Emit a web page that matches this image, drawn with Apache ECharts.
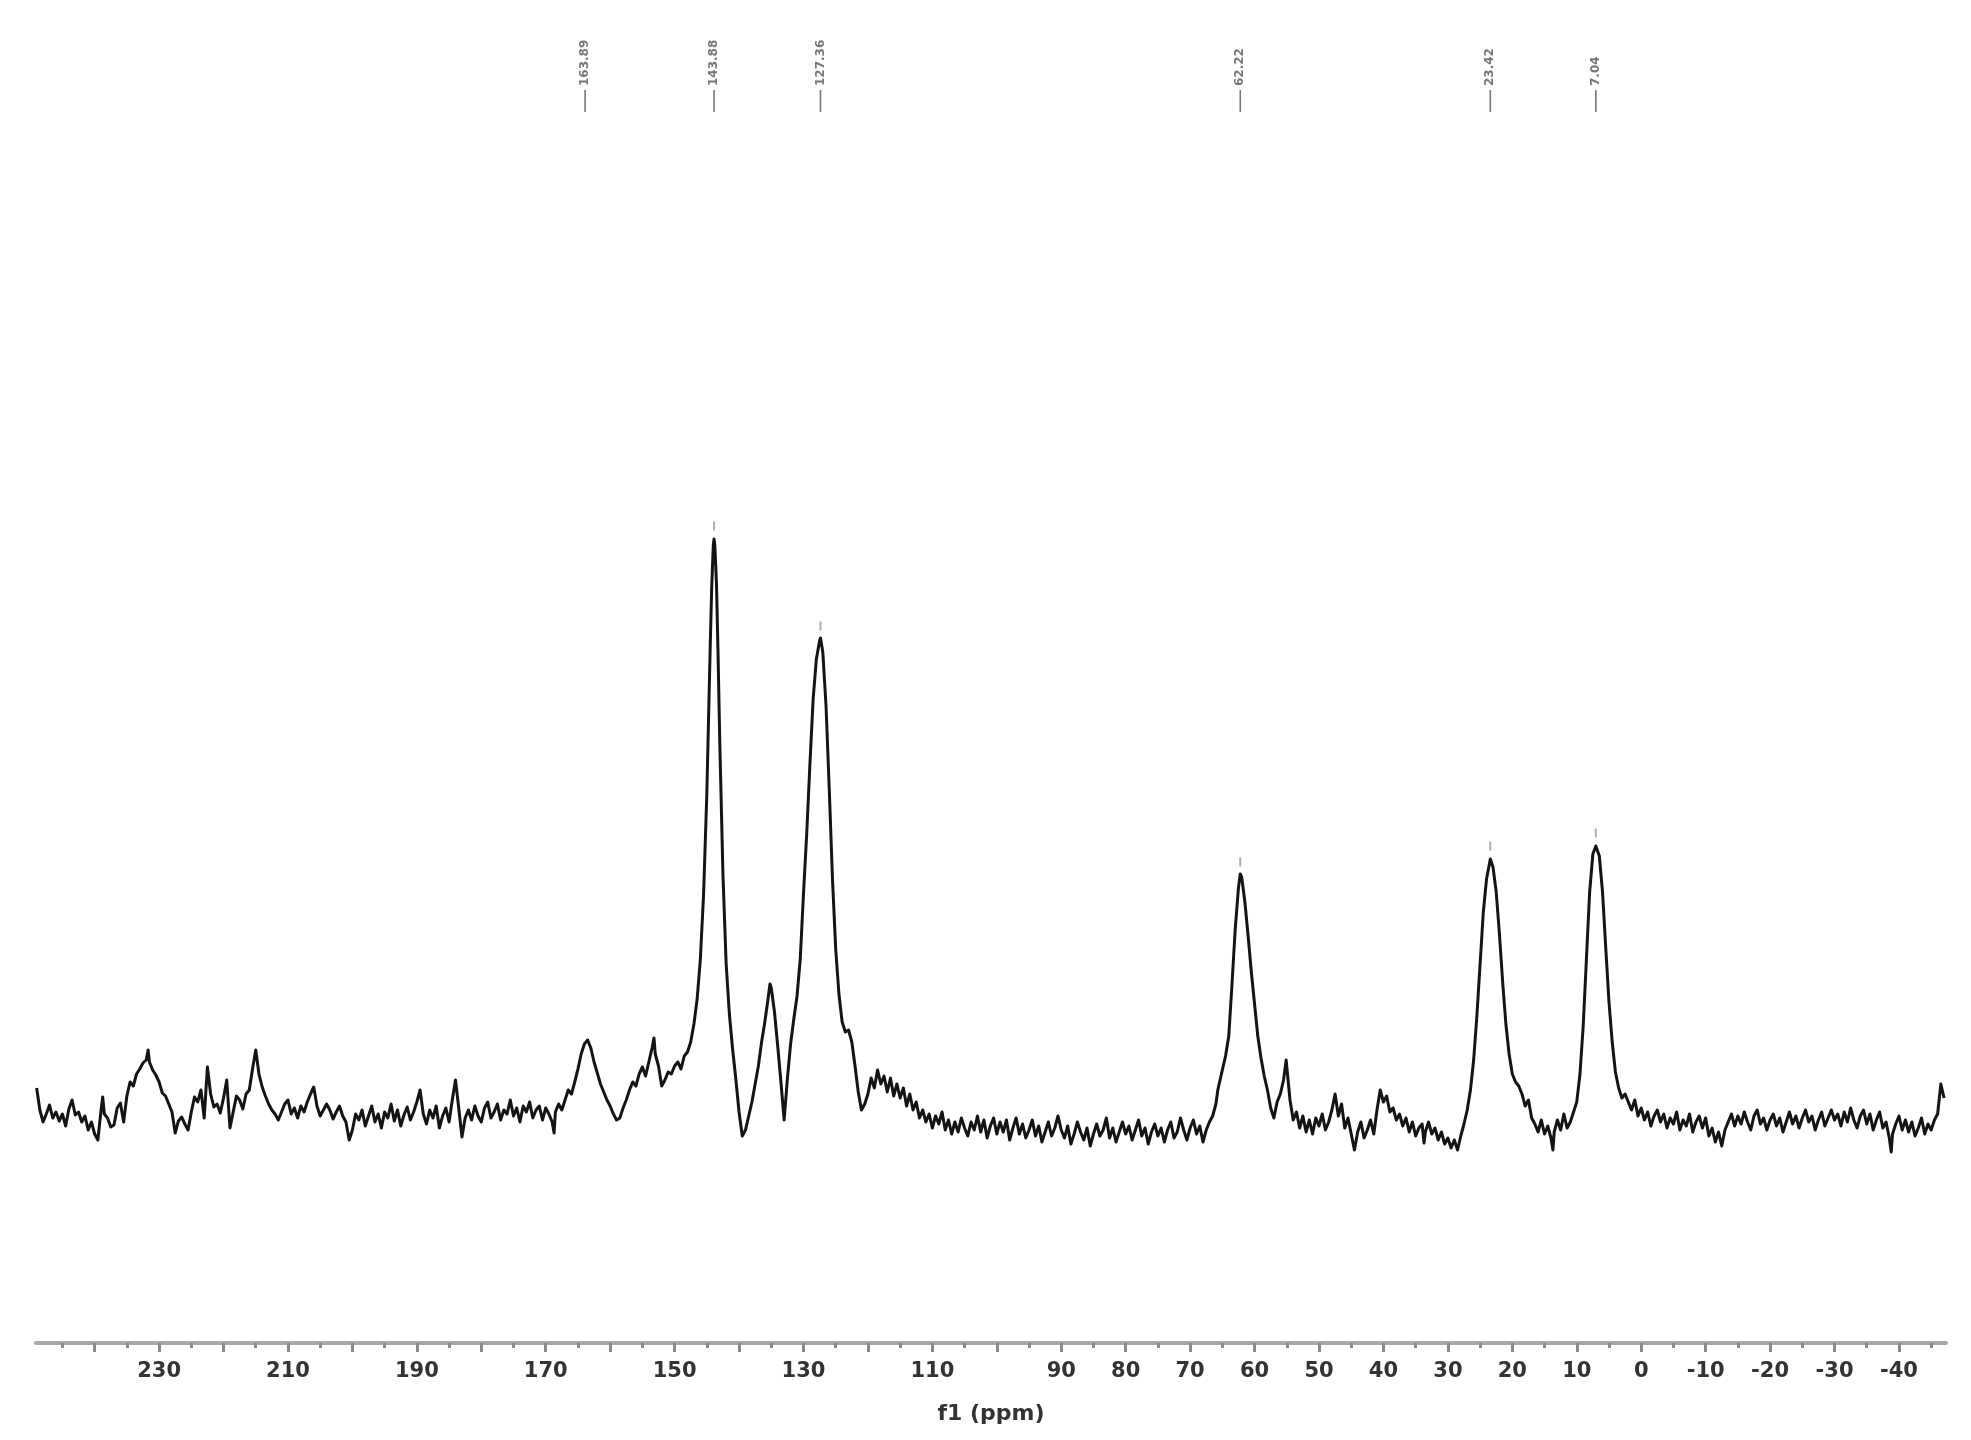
<!DOCTYPE html>
<html>
<head>
<meta charset="utf-8">
<script src="https://cdn.jsdelivr.net/npm/echarts@6/dist/echarts.min.js"></script>
<style>
html,body{margin:0;padding:0;background:#fff;}
#chart{width:1971px;height:1440px;}
</style>
</head>
<body>
<div id="chart"></div>
<script>
// ---- spectrum data: [ppm, intensity] ----
var seg250to170 = [
[249,36],[248.5,14],[248,2],[247.5,10],[247,19],[246.5,6],[246,12],[245.5,3],[245,10],[244.5,-2],
[244,15],[243.5,24],[243,9],[242.5,12],[242,2],[241.5,8],[241,-6],[240.5,2],[240,-10],[239.5,-16],
[239,14],[238.75,27],[238.5,10],[238,6],[237.5,-3],[237,-1],[236.5,16],[236,21],[235.5,2],[235,28],
[234.5,42],[234,38],[233.5,50],[233,55],[232.5,61],[232,64],[231.7,74],[231.5,62],[231,54],[230.5,49],
[230,42],[229.5,31],[229,28],[228.5,20],[228,12],[227.5,-9],[227,3],[226.5,7],[226,0],[225.5,-6],
[225,12],[224.5,27],[224,22],[223.5,34],[223,6],[222.5,57],[222,30],[221.5,17],[221,20],[220.5,11],
[220,26],[219.5,44],[219,-4],[218.5,12],[218,28],[217.5,24],[217,15],[216.5,30],[216,34],[215.5,55],
[215,74],[214.5,50],[214,37],[213.5,28],[213,20],[212.5,14],[212,10],[211.5,4],[211,12],[210.5,20],
[210,24],[209.5,10],[209,16],[208.5,6],[208,18],[207.5,12],[207,22],[206.5,30],[206,37],[205.5,18],
[205,8],[204.5,14],[204,20],[203.5,14],[203,5],[202.5,12],[202,18],[201.5,8],[201,2],[200.5,-16],
[200,-6],[199.5,10],[199,4],[198.5,14],[198,-2],[197.5,8],[197,18],[196.5,2],[196,10],[195.5,-4],
[195,12],[194.5,6],[194,20],[193.5,3],[193,14],[192.5,-2],[192,9],[191.5,17],[191,4],[190.5,12],
[190,22],[189.5,34],[189,10],[188.5,0],[188,14],[187.5,6],[187,18],[186.5,-4],[186,8],[185.5,16],
[185,2],[184.5,24],[184,44],[183.5,16],[183,-13],[182.5,6],[182,14],[181.5,4],[181,18],[180.5,8],
[180,2],[179.5,16],[179,22],[178.5,6],[178,12],[177.5,20],[177,4],[176.5,14],[176,10],[175.5,24],
[175,8],[174.5,16],[174,2],[173.5,18],[173,12],[172.5,22],[172,6],[171.5,14],[171,18],[170.5,4]
];
var seg170to120 = [
[170,16],[169.5,10],[169,2],[168.7,-9],[168.5,12],[168,20],[167.5,14],[167,24],[166.5,34],[166,30],
[165.5,42],[165,55],[164.5,70],[164,80],[163.5,84],[163,76],[162.5,62],[162,51],[161.5,40],[161,32],
[160.5,24],[160,18],[159.5,10],[159,4],[158.5,6],[158,16],[157.5,24],[157,34],[156.5,42],[156,38],
[155.5,50],[155,57],[154.5,48],[154,62],[153.5,76],[153.2,86],[153,70],[152.5,58],[152,38],[151.5,44],
[151,52],[150.5,50],[150,58],[149.5,62],[149,55],[148.5,68],[148,72],[147.5,82],[147,100],[146.5,125],
[146,165],[145.5,230],[145,330],[144.5,470],[144.25,535],[144,578],[143.88,585],[143.75,578],[143.5,540],[143.25,468],
[143,385],[142.5,250],[142,160],[141.5,110],[141,75],[140.5,45],[140,12],[139.5,-12],[139,-6],[138.5,8],
[138,22],[137.5,40],[137,58],[136.5,82],[136,102],[135.5,125],[135.2,140],[135,136],[134.5,112],[134,78],
[133.5,42],[133,4],[132.5,45],[132,80],[131.5,105],[131,128],[130.5,165],[130,230],[129.5,290],[129,360],
[128.5,425],[128,465],[127.5,483],[127.36,486],[127,472],[126.5,418],[126,335],[125.5,245],[125,175],[124.5,130],
[124,102],[123.5,92],[123,94],[122.5,82],[122,58],[121.5,32],[121,14],[120.5,20]
];
var seg120to67 = [
[120,30],[119.5,46],[119,36],[118.5,54],[118,40],[117.5,48],[117,32],[116.5,46],[116,28],[115.5,40],
[115,26],[114.5,36],[114,18],[113.5,30],[113,14],[112.5,22],[112,6],[111.5,14],[111,2],[110.5,10],
[110,-4],[109.5,8],[109,0],[108.5,12],[108,-6],[107.5,4],[107,-10],[106.5,2],[106,-8],[105.5,6],
[105,-4],[104.5,-12],[104,2],[103.5,-6],[103,8],[102.5,-8],[102,4],[101.5,-14],[101,-2],[100.5,6],
[100,-10],[99.5,2],[99,-8],[98.5,4],[98,-16],[97.5,-4],[97,6],[96.5,-10],[96,0],[95.5,-14],
[95,-6],[94.5,4],[94,-12],[93.5,-2],[93,-18],[92.5,-8],[92,2],[91.5,-12],[91,-4],[90.5,8],
[90,-6],[89.5,-14],[89,-2],[88.5,-20],[88,-10],[87.5,2],[87,-8],[86.5,-16],[86,-4],[85.5,-22],
[85,-10],[84.5,0],[84,-12],[83.5,-6],[83,6],[82.5,-14],[82,-4],[81.5,-18],[81,-8],[80.5,2],
[80,-10],[79.5,-2],[79,-16],[78.5,-6],[78,4],[77.5,-12],[77,-4],[76.5,-20],[76,-8],[75.5,0],
[75,-12],[74.5,-4],[74,-18],[73.5,-6],[73,2],[72.5,-14],[72,-8],[71.5,6],[71,-6],[70.5,-16],
[70,-4],[69.5,4],[69,-10],[68.5,-2],[68,-18],[67.5,-6],[67,2]
];
var seg67to54 = [
[66.5,8],[66,20],[65.7,34],[65.5,40],[65,54],[64.5,68],[64,88],[63.5,140],[63,195],[62.5,236],
[62.22,250],[62,247],[61.5,222],[61,188],[60.5,152],[60,120],[59.5,88],[59,66],[58.5,48],[58,34],
[57.5,16],[57,6],[56.5,22],[56,30],[55.5,44],[55.1,64],[54.5,24],[54,4]
];
var seg54to28 = [
[53.5,12],[53,-4],[52.5,8],[52,-8],[51.5,4],[51,-10],[50.5,6],[50,-2],[49.5,10],[49,-6],
[48.5,2],[48,14],[47.5,30],[47,8],[46.5,20],[46,-4],[45.5,6],[45,-10],[44.5,-26],[44,-8],
[43.5,2],[43,-14],[42.5,-6],[42,4],[41.5,-10],[41,14],[40.5,34],[40,22],[39.5,28],[39,12],
[38.5,16],[38,4],[37.5,10],[37,-2],[36.5,6],[36,-8],[35.5,2],[35,-12],[34.5,-4],[34,0],
[33.7,-19],[33.5,-8],[33,2],[32.5,-10],[32,-4],[31.5,-16],[31,-8],[30.5,-20],[30,-14],[29.5,-24],
[29,-16],[28.5,-26],[28,-12]
];
var seg28to16 = [
[27.5,0],[27,14],[26.5,34],[26,64],[25.5,108],[25,160],[24.5,212],[24,245],[23.5,262],[23.42,265],
[23,257],[22.5,232],[22,190],[21.5,142],[21,100],[20.5,70],[20,50],[19.5,42],[19,38],[18.5,30],
[18,18],[17.5,24],[17,6],[16.5,0],[16,-8]
];
var seg16to2 = [
[15.5,4],[15,-10],[14.5,-2],[14,-14],[13.7,-26],[13.5,-8],[13,4],[12.5,-6],[12,10],[11.5,-4],
[11,2],[10.5,12],[10,22],[9.5,50],[9,98],[8.5,165],[8,232],[7.5,270],[7.04,278],[6.5,268],
[6,232],[5.5,176],[5,122],[4.5,82],[4,52],[3.5,36],[3,26],[2.5,30]
];
var seg2toEnd = [
[2,22],[1.5,14],[1,24],[0.5,8],[0,16],[-0.5,4],[-1,12],[-1.5,-2],[-2,8],[-2.5,14],
[-3,2],[-3.5,10],[-4,-4],[-4.5,6],[-5,0],[-5.5,12],[-6,-6],[-6.5,4],[-7,-2],[-7.5,10],
[-8,-8],[-8.5,2],[-9,8],[-9.5,-4],[-10,6],[-10.5,-12],[-11,-4],[-11.5,-18],[-12,-8],[-12.5,-22],
[-13,-6],[-13.5,2],[-14,10],[-14.5,-2],[-15,8],[-15.5,0],[-16,12],[-16.5,2],[-17,-6],[-17.5,8],
[-18,14],[-18.5,0],[-19,6],[-19.5,-6],[-20,4],[-20.5,10],[-21,-2],[-21.5,6],[-22,-8],[-22.5,2],
[-23,12],[-23.5,0],[-24,8],[-24.5,-4],[-25,6],[-25.5,14],[-26,2],[-26.5,8],[-27,-6],[-27.5,4],
[-28,12],[-28.5,-2],[-29,6],[-29.5,14],[-30,4],[-30.5,10],[-31,-2],[-31.5,12],[-32,2],[-32.5,16],
[-33,4],[-33.5,-4],[-34,8],[-34.5,14],[-35,0],[-35.5,10],[-36,-6],[-36.5,4],[-37,12],[-37.5,-4],
[-38,2],[-38.5,-14],[-38.8,-28],[-39,-10],[-39.5,0],[-40,8],[-40.5,-6],[-41,4],[-41.5,-8],[-42,2],
[-42.5,-12],[-43,-4],[-43.5,6],[-44,-10],[-44.5,0],[-45,-6],[-45.5,4],[-46,10],[-46.5,40],[-47,26]
];

// peak picking labels
var peakPpm = [163.89, 143.88, 127.36, 62.22, 23.42, 7.04];
var peakText = ["163.89", "143.88", "127.36", "62.22", "23.42", "7.04"];
// small peak-top markers
var peakTops = [[143.88, 598], [127.36, 498], [62.22, 262], [23.42, 278], [7.04, 291]];

// axis ticks
var labelTicks = [230, 210, 190, 170, 150, 130, 110, 90, 80, 70, 60, 50, 40, 30, 20, 10, 0, -10, -20, -30, -40];
var majorTicks = [240, 230, 220, 210, 200, 190, 180, 170, 160, 150, 140, 130, 120, 110, 100, 90, 80, 70, 60, 50, 40, 30, 20, 10, 0, -10, -20, -30, -40];
var minorTicks = [245, 235, 225, 215, 205, 195, 185, 175, 165, 155, 145, 135, 125, 115, 105, 95, 85, 75, 65, 55, 45, 35, 25, 15, 5, -5, -15, -25, -35, -45];

var spectrum = [].concat(seg250to170, seg170to120, seg120to67, seg67to54, seg54to28, seg28to16, seg16to2, seg2toEnd);

var X_MIN = -47.3, X_MAX = 249.1;
var labelLineY = 1023;

var chart = echarts.init(document.getElementById('chart'), null, {renderer: 'canvas'});
chart.setOption({
  backgroundColor: '#ffffff',
  animation: false,
  grid: {left: 36, right: 25, top: 30, bottom: 97, containLabel: false},
  xAxis: [{
    type: 'value', min: X_MIN, max: X_MAX, inverse: true, position: 'bottom',
    name: 'f1 (ppm)', nameLocation: 'middle', nameGap: 60,
    nameTextStyle: {fontFamily: 'DejaVu Sans', fontSize: 22, color: '#333', fontWeight: 'bold'},
    axisLine: {show: true, onZero: false, lineStyle: {color: '#a8a8a8', width: 4}},
    axisTick: {show: true, customValues: majorTicks, length: 9, inside: false, lineStyle: {color: '#8a8a8a', width: 3}},
    axisLabel: {show: true, customValues: labelTicks, margin: 18, fontFamily: 'DejaVu Sans', fontSize: 21, fontWeight: 'bold', color: '#333'},
    splitLine: {show: false}
  }, {
    type: 'value', min: X_MIN, max: X_MAX, inverse: true, position: 'bottom',
    axisLine: {show: false, onZero: false},
    axisTick: {show: true, customValues: minorTicks, length: 5, lineStyle: {color: '#8a8a8a', width: 3}},
    axisLabel: {show: false},
    splitLine: {show: false}
  }],
  yAxis: {
    type: 'value', min: -219, max: 1094, show: false,
    splitLine: {show: false}
  },
  series: [{
    type: 'line',
    data: spectrum,
    showSymbol: false,
    symbol: 'none',
    smooth: false,
    sampling: null,
    lineStyle: {color: '#141414', width: 3, join: 'round'},
    z: 3
  }, {
    type: 'scatter',
    data: peakTops,
    symbol: 'rect',
    symbolSize: [2, 9],
    itemStyle: {color: '#9a9a9a'},
    silent: true,
    z: 2
  }, {
    type: 'scatter',
    data: peakPpm.map(function (p, i) { return {value: [p, labelLineY], name: peakText[i]}; }),
    symbol: 'rect',
    symbolSize: [1.6, 22],
    itemStyle: {color: '#555'},
    silent: true,
    label: {
      show: true,
      position: 'top',
      distance: 4,
      rotate: 90,
      align: 'left',
      verticalAlign: 'middle',
      formatter: function (p) { return p.name; },
      fontFamily: 'DejaVu Sans',
      fontSize: 12,
      fontWeight: 'bold',
      color: '#555'
    },
    z: 4
  }]
});
</script>
</body>
</html>
